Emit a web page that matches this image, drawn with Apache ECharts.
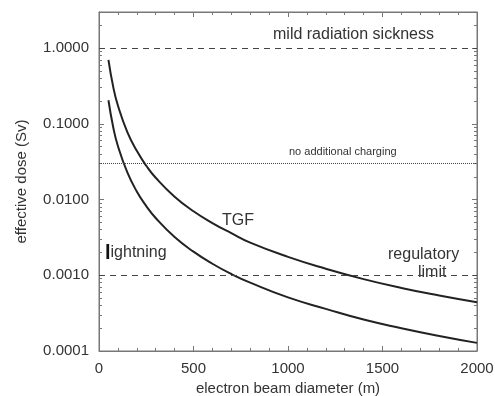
<!DOCTYPE html>
<html>
<head>
<meta charset="utf-8">
<script src="https://cdn.jsdelivr.net/npm/echarts@6/dist/echarts.min.js"></script>
<style>
  html, body { margin: 0; padding: 0; background: #fff; }
  #chart { width: 495px; height: 396px; }
</style>
</head>
<body>
<div id="chart"></div>
<script>
// beam diameter (m) and dose
const diameters = [50, 75, 100, 150, 200, 250, 300, 400, 500, 600, 700, 800, 1000, 1200, 1400, 1600, 1800, 2000];
const tgfDose = [0.70, 0.31, 0.175, 0.078, 0.044, 0.028, 0.0194, 0.0109, 0.0070, 0.0049, 0.0036, 0.0027, 0.00175, 0.00122, 0.00089, 0.00068, 0.00054, 0.00044];
const lightningDose = [0.205, 0.091, 0.051, 0.0228, 0.0128, 0.0082, 0.0057, 0.0032, 0.00205, 0.00142, 0.00104, 0.0008, 0.00051, 0.00036, 0.00026, 0.0002, 0.000158, 0.000128];
const xTicks = [0, 500, 1000, 1500, 2000];
const yTicks = [0.0001, 0.001, 0.01, 0.1, 1];
const sicknessLevel = 1;
const chargingLevel = 0.03;
const regulatoryLevel = 0.001;

const font = '"Liberation Sans", Arial, sans-serif';
const ink = '#333';
const axisColor = '#777';

const chart = echarts.init(document.getElementById('chart'));

const isDecade = v => yTicks.some(t => Math.abs(Math.log10(v) - Math.log10(t)) < 1e-6);
const xMin = xTicks[0];
const xMax = xTicks[xTicks.length - 1];

const xBase = {
  type: 'value', gridIndex: 0, min: xMin, max: xMax, interval: 500,
  axisLine: { show: true, onZero: false, lineStyle: { color: axisColor, width: 1 } },
  axisTick: { inside: true, length: 5, lineStyle: { color: axisColor } },
  minorTick: { show: true, splitNumber: 5, length: 3, lineStyle: { color: axisColor } },
  splitLine: { show: false }
};
const yBase = {
  type: 'log', gridIndex: 0, logBase: 10, min: 0.0001, max: 3,
  axisLine: { show: true, onZero: false, lineStyle: { color: axisColor, width: 1 } },
  axisTick: { show: true, inside: true, length: 5, lineStyle: { color: axisColor } },
  minorTick: { show: true, splitNumber: 9, length: 3, lineStyle: { color: axisColor } },
  splitLine: { show: false }
};

const refLine = (value, type) => ({
  silent: true, symbol: 'none', label: { show: false },
  lineStyle: { color: '#444', width: 1, type: type },
  data: [[{ coord: [xMin, value] }, { coord: [xMax, value] }]]
});

const note = (text, left, top, size) => ({
  type: 'text', left: left, top: top,
  style: { text: text, fill: ink, fontSize: size, fontFamily: font }
});

chart.setOption({
  backgroundColor: '#fff',
  animation: false,
  grid: {
    left: 99, right: 18, top: 12, bottom: 45, outerBoundsMode: 'none',
    show: true, borderColor: axisColor, borderWidth: 1, backgroundColor: 'transparent'
  },
  xAxis: [
    Object.assign({}, xBase, {
      position: 'bottom',
      name: 'electron beam diameter (m)', nameLocation: 'middle', nameGap: 30,
      nameTextStyle: { color: ink, fontSize: 15, fontFamily: font },
      axisLabel: { color: ink, fontSize: 15, fontFamily: font, margin: 10, formatter: v => String(v) }
    }),
    Object.assign({}, xBase, { position: 'top', axisLabel: { show: false } })
  ],
  yAxis: [
    Object.assign({}, yBase, {
      position: 'left',
      name: 'effective dose (Sv)', nameLocation: 'middle', nameGap: 70,
      nameTextStyle: { color: ink, fontSize: 15, fontFamily: font },
      axisLabel: {
        color: ink, fontSize: 15, fontFamily: font, margin: 10,
        formatter: v => isDecade(v) ? v.toFixed(4) : ''
      }
    }),
    Object.assign({}, yBase, { position: 'right', axisLabel: { show: false } })
  ],
  series: [
    {
      name: 'TGF', type: 'line', smooth: true, symbol: 'none',
      data: diameters.map((d, i) => [d, tgfDose[i]]),
      lineStyle: { color: '#222', width: 2 },
      markLine: refLine(sicknessLevel, [6, 5])
    },
    {
      name: 'lightning', type: 'line', smooth: true, symbol: 'none',
      data: diameters.map((d, i) => [d, lightningDose[i]]),
      lineStyle: { color: '#222', width: 2 },
      markLine: refLine(regulatoryLevel, [6, 5])
    },
    {
      name: 'charging', type: 'line', symbol: 'none', data: [],
      xAxisIndex: 1, yAxisIndex: 1,
      markLine: refLine(chargingLevel, [1, 1])
    }
  ],
  graphic: [
    note('mild radiation sickness', 273, 27, 16),
    note('no additional charging', 289, 146, 11),
    note('regulatory', 388, 247, 16),
    note('limit', 418, 265, 16),
    note('TGF', 222, 213, 16),
    {
      type: 'text', left: 105, top: 243,
      style: {
        text: '{b|l}ightning', fill: ink, fontSize: 16, fontFamily: font,
        rich: { b: { fontSize: 20, fontWeight: 'bold', fill: '#111', fontFamily: font } }
      }
    }
  ]
});
</script>
</body>
</html>
